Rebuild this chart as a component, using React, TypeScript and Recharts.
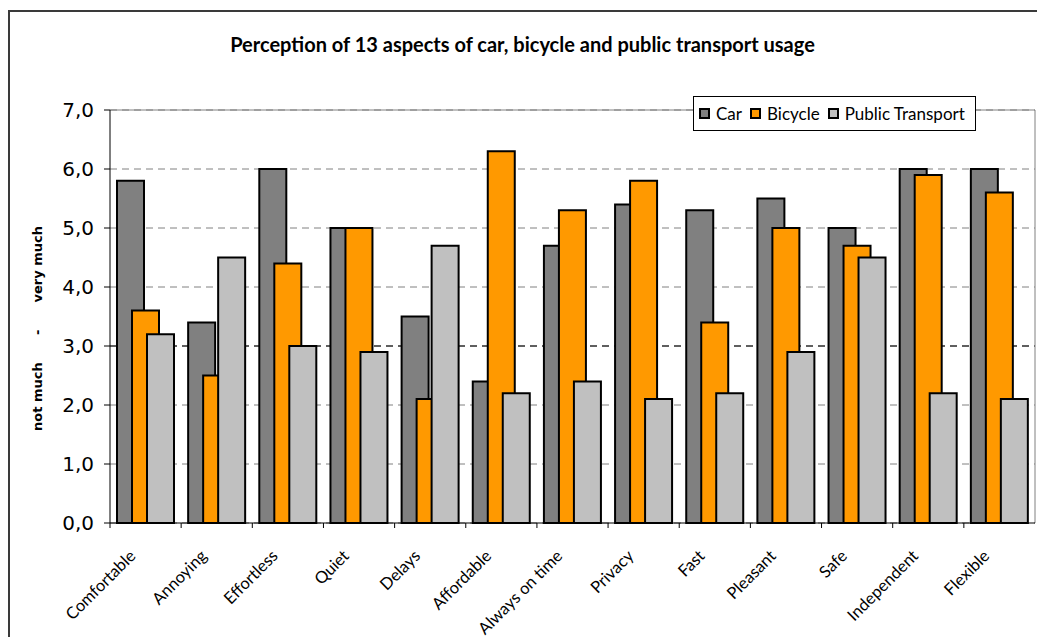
import React from 'react';
import { BarChart, Bar, XAxis, YAxis, CartesianGrid, Legend } from 'recharts';

const categories = ['Comfortable', 'Annoying', 'Effortless', 'Quiet', 'Delays', 'Affordable', 'Always on time', 'Privacy', 'Fast', 'Pleasant', 'Safe', 'Independent', 'Flexible'];
const carValues = [5.8, 3.4, 6.0, 5.0, 3.5, 2.4, 4.7, 5.4, 5.3, 5.5, 5.0, 6.0, 6.0];
const bicycleValues = [3.6, 2.5, 4.4, 5.0, 2.1, 6.3, 5.3, 5.8, 3.4, 5.0, 4.7, 5.9, 5.6];
const publicTransportValues = [3.2, 4.5, 3.0, 2.9, 4.7, 2.2, 2.4, 2.1, 2.2, 2.9, 4.5, 2.2, 2.1];
const yTicks = [0, 1, 2, 3, 4, 5, 6, 7];
const seriesNames = ['Car', 'Bicycle', 'Public Transport'];
const seriesKeys = ['car', 'bicycle', 'pt'];
const seriesColors = ['#808080', '#FF9900', '#C0C0C0'];

const data = categories.map((c, i) => ({
  name: c,
  car: carValues[i],
  bicycle: bicycleValues[i],
  pt: publicTransportValues[i],
}));

const W = 1029;
const H = 629;
const MARGIN = { top: 102, right: 2, bottom: 14, left: 0 };
const Y_AXIS_W = 102;
const X_AXIS_H = 100;
const PLOT_W = W - MARGIN.left - MARGIN.right - Y_AXIS_W;
const BAND = PLOT_W / categories.length;
const CALIBRI_LIKE = "Lato, 'Open Sans', sans-serif";
const VERDANA_LIKE = "'DejaVu Sans', Verdana, sans-serif";

const XTick = (props: any) => {
  const { x, y, payload } = props;
  const half = BAND / 2;
  const tx = x - 9;
  const ty = y + 34;
  return (
    <g>
      <line x1={x - half} x2={x - half} y1={y} y2={y + 5} stroke="#000" strokeWidth={1} />
      <text
        x={tx}
        y={ty}
        transform={`rotate(-45, ${tx}, ${ty})`}
        textAnchor="end"
        fontFamily={CALIBRI_LIKE}
        fontSize={16.5}
        fill="#000"
      >
        {payload.value}
      </text>
    </g>
  );
};

const YLabel = (props: any) => {
  const vb = props.viewBox || { x: 0, y: MARGIN.top, width: Y_AXIS_W, height: 413 };
  const cx = vb.x + 34;
  const cy = vb.y + vb.height / 2 + 12;
  return (
    <text
      x={cx}
      y={cy}
      transform={`rotate(-90, ${cx}, ${cy})`}
      textAnchor="middle"
      fontFamily={VERDANA_LIKE}
      fontWeight="bold"
      fontSize={13}
      fill="#000"
    >
      {'not much\u00a0\u00a0\u00a0\u00a0\u00a0\u00a0-\u00a0\u00a0\u00a0\u00a0\u00a0\u00a0very much'}
    </text>
  );
};

const LegendContent = () => (
  <div
    style={{
      boxSizing: 'border-box',
      width: 283,
      height: 35,
      border: '1px solid #000',
      background: '#fff',
      display: 'flex',
      alignItems: 'center',
      paddingLeft: 5,
      fontFamily: CALIBRI_LIKE,
      fontSize: 17,
      color: '#000',
      whiteSpace: 'nowrap',
    }}
  >
    {seriesNames.map((n, i) => (
      <div key={n} style={{ display: 'flex', alignItems: 'center', marginRight: 8 }}>
        <span
          style={{
            display: 'inline-block',
            boxSizing: 'border-box',
            width: 11,
            height: 11,
            background: seriesColors[i],
            border: '2px solid #000',
            marginRight: 6,
          }}
        />
        <span>{n}</span>
      </div>
    ))}
  </div>
);

export default function App() {
  return (
    <div
      style={{
        position: 'fixed',
        left: 8,
        top: 8,
        width: W,
        height: H,
        overflow: 'hidden',
        background: '#fff',
      }}
    >
      <style>{'html, body { overflow: hidden; }'}</style>
      <div
        style={{
          position: 'absolute',
          left: 0,
          top: 2,
          width: W + 50,
          height: H + 50,
          boxSizing: 'border-box',
          borderLeft: '2px solid #3a3a3a',
          borderTop: '2px solid #3a3a3a',
        }}
      />
      <div
        style={{
          position: 'absolute',
          left: 0,
          top: 26,
          width: W,
          textAlign: 'center',
          fontFamily: CALIBRI_LIKE,
          fontWeight: 'bold',
          fontSize: 20,
          lineHeight: '20px',
          color: '#000',
        }}
      >
        Perception of 13 aspects of car, bicycle and public transport usage
      </div>
      <div style={{ position: 'absolute', left: 0, top: 0 }}>
        <BarChart width={W} height={H} data={data} margin={MARGIN} barGap={-12}>
          <CartesianGrid vertical={false} stroke="#808080" strokeDasharray="7 5" />
          <CartesianGrid vertical={false} horizontalValues={[3]} stroke="#000" strokeDasharray="7 5" />
          <CartesianGrid vertical={false} horizontalValues={[7]} stroke="#808080" />
          <CartesianGrid
            horizontal={false}
            stroke="#808080"
            verticalCoordinatesGenerator={(p: any) => [p.offset.left + p.offset.width]}
          />
          <XAxis
            dataKey="name"
            height={X_AXIS_H}
            interval={0}
            tickSize={0}
            tickMargin={0}
            tickLine={false}
            axisLine={{ stroke: '#000', strokeWidth: 1 }}
            tick={<XTick />}
          />
          <YAxis
            width={Y_AXIS_W}
            domain={[0, 7]}
            ticks={yTicks}
            interval={0}
            tickSize={6}
            tickMargin={10}
            tickFormatter={(v: number) => v.toFixed(1).replace('.', ',')}
            tick={{ fontFamily: VERDANA_LIKE, fontSize: 20, fill: '#000' }}
            axisLine={{ stroke: '#000' }}
            tickLine={{ stroke: '#000' }}
            label={{ content: (p: any) => <YLabel {...p} /> }}
          />
          <Legend
            layout="vertical"
            align="center"
            verticalAlign="middle"
            content={<LegendContent />}
            wrapperStyle={{ position: 'absolute', left: 685, top: 88, width: 283, height: 35 }}
          />
          {seriesKeys.map((k, i) => (
            <Bar
              key={k}
              dataKey={k}
              name={seriesNames[i]}
              fill={seriesColors[i]}
              stroke="#000"
              strokeWidth={2}
              barSize={27}
              isAnimationActive={false}
            />
          ))}
        </BarChart>
      </div>
    </div>
  );
}
